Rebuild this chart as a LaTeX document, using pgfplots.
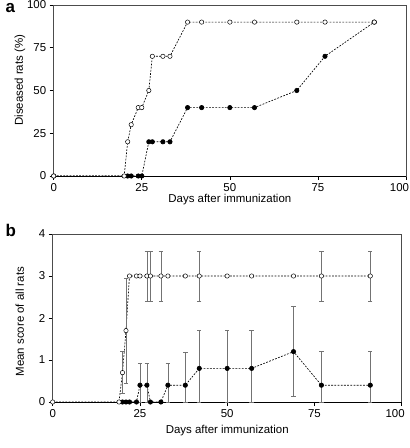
\documentclass[border=0pt]{standalone}
\usepackage{fontspec}
\setmainfont{Liberation Sans}
\usepackage{pgfplots}
\pgfplotsset{compat=1.18}
\begin{document}
\begin{tikzpicture}
\path[use as bounding box] (0,0) rectangle (410bp,448bp);
\pgfplotsset{
  myax/.style={
    scale only axis,
    anchor=south west,
    xmin=0,xmax=100,
    xtick={0,25,50,75,100},
    xticklabel={\ifdim\tick pt>99pt \makebox[6bp][r]{100}\else\pgfmathprintnumber{\tick}\fi},
    tick align=outside,
    major tick length=4bp,
    tick style={black,line width=0.6pt},
    xtick pos=bottom, ytick pos=left,
    axis line style={black!70,line width=0.6pt},
    /pgf/number format/assume math mode=true,
    tick label style={font=\fontsize{11.5}{13}\selectfont},
    label style={font=\fontsize{11.5}{13}\selectfont},
    clip=false,
  },
  dl/.style={black,line width=0.65pt,dash pattern=on 1.8pt off 1.4pt},
  om/.style={mark=*,mark size=2.2pt,mark options={solid,fill=white,draw=black,line width=0.5pt}},
  fm/.style={mark=*,mark size=2.2pt,mark options={solid,fill=black,draw=black}},
  eb/.style={error bars/.cd, y dir=both, y explicit,
    error bar style={black!55,line width=0.7pt,solid},
    error mark options={rotate=90,mark size=2.2pt,black!55,line width=0.6pt}},
}
% Panel a
\begin{axis}[myax,
  at={(53.7bp,272bp)},
  width=352.3bp,height=171bp,
  ymin=0,ymax=100,
  ytick={0,25,50,75,100},
  xlabel={Days after immunization},
  ylabel={Diseased rats (\%)},
  xlabel style={at={(axis description cs:0.5,-0.14)},anchor=center},
  ylabel style={at={(axis description cs:-0.096,0.56)},anchor=center},
]
\draw[black,line width=0.7pt] (axis cs:0,0) -- (axis cs:100,0);
\addplot[dl,fm] coordinates {
(0,0) (21,0) (22,0) (24,0) (25,0) (27,20) (28,20) (31,20) (33,20)
(38,40) (42,40) (50,40) (57,40) (69,50) (77,70) (91,90)};
\addplot[dl,om] coordinates {
(0,0) (20,0) (21,20) (22,30) (24,40) (25,40) (27,50) (28,70) (31,70) (33,70)
(38,90) (42,90) (50,90) (57,90) (69,90) (77,90) (91,90)};
\end{axis}
\node[anchor=base west,font=\fontsize{17}{19}\selectfont\bfseries] at (2bp,435bp) {a};
% Panel b
\begin{axis}[myax,
  at={(52.7bp,46bp)},
  width=349bp,height=168bp,
  ymin=0,ymax=4,
  ytick={0,1,2,3,4},
  xlabel={Days after immunization},
  ylabel={Mean score of all rats},
  xlabel style={at={(axis description cs:0.5,-0.171)},anchor=center},
  ylabel style={at={(axis description cs:-0.094,0.478)},anchor=center},
]
\draw[black,line width=0.7pt] (axis cs:0,0) -- (axis cs:100,0);
\addplot[dl,fm,eb] coordinates {
(20,0) (21,0) (22,0) (24,0)
(25,0.4) += (0,0.53) -= (0,0.4)
(27,0.4) += (0,0.53) -= (0,0.4)
(28,0) (31,0)
(33,0.4) += (0,0.53) -= (0,0.4)
(38,0.4) += (0,0.78) -= (0,0.4)
(42,0.8) += (0,0.91) -= (0,0.8)
(50,0.8) += (0,0.91) -= (0,0.8)
(57,0.8) += (0,0.91) -= (0,0.8)
(69,1.2) += (0,1.07) -= (0,1.07)
(77,0.4) += (0,0.8) -= (0,0.4)
(91,0.4) += (0,0.8) -= (0,0.4)
};
\addplot[dl,om,eb] coordinates {
(0,0) (19,0)
(20,0.7) +- (0,0.5)
(21,1.7) += (0,1.25) -= (0,1.25)
(22,3) (24,3) (25,3)
(27,3) +- (0,0.6)
(28,3) +- (0,0.6)
(31,3) +- (0,0.6)
(33,3) (38,3)
(42,3) +- (0,0.6)
(50,3) (57,3) (69,3)
(77,3) +- (0,0.6)
(91,3) +- (0,0.6)
};
\end{axis}
\node[anchor=base west,font=\fontsize{17}{19}\selectfont\bfseries] at (2bp,211bp) {b};
\end{tikzpicture}
\end{document}
